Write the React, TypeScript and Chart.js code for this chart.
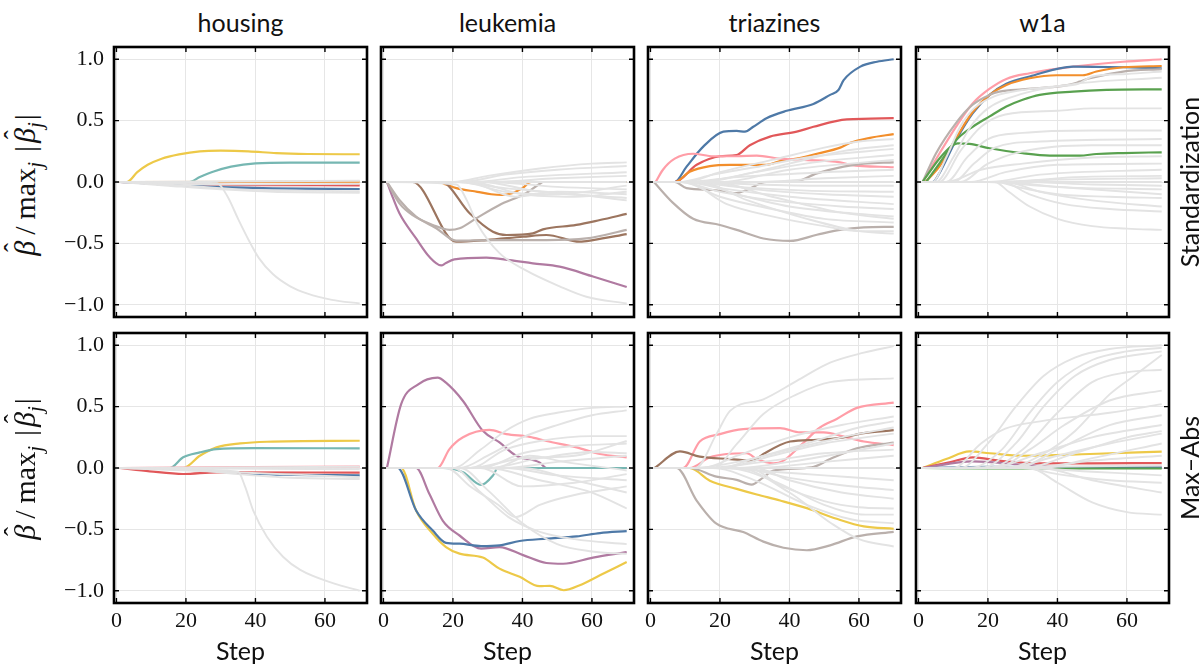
import React, { useEffect, useRef } from "react";
import { Chart, registerables } from "chart.js";

Chart.register(...registerables);

type Pt = [number, number];

// ---------- axis values ----------
const X_TICKS = [0, 20, 40, 60];
const Y_TICKS = [-1, -0.5, 0, 0.5, 1];
const X_MIN = -0.7;
const X_MAX = 72.1;
const Y_MIN = -1.1;
const Y_MAX = 1.1;

const COLUMN_TITLES = ["housing", "leukemia", "triazines", "w1a"];
const ROW_TITLES = ["Standardization", "Max\u2013Abs"];
const X_LABEL = "Step";

// ---------- housing / Standardization ----------
const HOUSING_STD_GRAY: Pt[][] = [
  [[1, 0], [29, -0.01], [32, -0.12], [35, -0.3], [38, -0.47], [41, -0.62], [45, -0.75], [50, -0.85], [55, -0.91], [62, -0.96], [70, -0.99]],
  [[1, 0], [15, -0.03], [30, -0.06], [45, -0.08], [70, -0.087]],
  [[1, 0], [20, -0.03], [35, -0.06], [70, -0.075]],
  [[1, 0], [70, 0.01]],
  [[1, 0], [30, -0.02], [70, -0.015]],
];
const HOUSING_STD_HL: [string, Pt[]][] = [
  ["blue", [[1, 0], [8, -0.01], [20, -0.03], [30, -0.042], [45, -0.052], [70, -0.057]]],
  ["orange", [[1, 0], [70, 0.002]]],
  ["red", [[1, 0], [10, -0.012], [20, -0.02], [35, -0.025], [70, -0.027]]],
  ["teal", [[1, 0], [21, 0], [24, 0.04], [28, 0.085], [33, 0.125], [40, 0.152], [50, 0.158], [70, 0.158]]],
  ["yellow", [[1, 0], [3, 0], [6, 0.08], [9, 0.14], [13, 0.19], [18, 0.225], [24, 0.25], [30, 0.255], [38, 0.25], [46, 0.235], [55, 0.228], [70, 0.226]]],
];

// ---------- leukemia / Standardization ----------
const LEUKEMIA_STD_GRAY: Pt[][] = [
  [[1, 0], [21, -0.02], [24, -0.15], [27, -0.34], [33.4, -0.58], [41, -0.72], [50.7, -0.85], [58.4, -0.935], [70, -0.99]],
  [[1, 0], [20, 0], [30, 0.05], [45, 0.11], [60, 0.15], [70, 0.16]],
  [[1, 0], [22, 0], [35, 0.06], [50, 0.1], [70, 0.13]],
  [[1, 0], [25, 0], [40, 0.04], [70, 0.08]],
  [[1, 0], [30, 0], [50, 0.03], [70, 0.05]],
  [[1, 0], [70, 0]],
  [[1, 0], [22, 0], [35, -0.08], [50, -0.1], [70, -0.03]],
  [[1, 0], [25, 0], [40, -0.1], [55, -0.12], [70, -0.08]],
  [[1, 0], [28, 0], [45, -0.08], [70, -0.13]],
  [[1, 0], [20, 0], [35, -0.05], [55, -0.1], [70, -0.15]],
  [[1, 0], [30, 0], [50, -0.04], [70, -0.06]],
  [[1, 0], [24, 0], [38, -0.12], [50, -0.08], [70, -0.1]],
];
const LEUKEMIA_STD_HL: [string, Pt[]][] = [
  ["graybrown", [[1, 0], [4.6, -0.174], [8.4, -0.27], [14.2, -0.35], [19, -0.39], [21.9, -0.377], [26.7, -0.296], [33.4, -0.187], [41, -0.092], [44.9, -0.016], [46, 0], [70, 0]]],
  ["graybrown", [[1, 0], [4.6, -0.147], [9.4, -0.283], [15.2, -0.377], [20.9, -0.478], [31.5, -0.473], [46.9, -0.473], [58.4, -0.46], [70, -0.39]]],
  ["brown", [[1, 0], [8.4, 0], [20.9, -0.486], [29.6, -0.473], [40.2, -0.446], [46.9, -0.432], [56.5, -0.486], [60.3, -0.473], [70, -0.425]]],
  ["brown", [[1, 0], [16.6, 0], [24.8, -0.255], [31.5, -0.405], [35.4, -0.432], [43, -0.418], [45.9, -0.386], [55.5, -0.35], [62.3, -0.31], [70, -0.26]]],
  ["purple", [[1, 0], [2.2, -0.09], [4.6, -0.255], [9.4, -0.46], [13.2, -0.61], [16.6, -0.68], [18, -0.66], [20.4, -0.63], [29.6, -0.617], [36.3, -0.636], [43, -0.663], [50.7, -0.69], [60.3, -0.77], [70, -0.855]]],
  ["orange", [[1, 0], [16, 0], [18, -0.02], [21, -0.05], [27, -0.08], [31, -0.1], [34, -0.106], [37, -0.092], [40, -0.05], [42.5, 0], [70, 0]]],
];

// ---------- triazines / Standardization ----------
const TRIAZINES_STD_GRAY: Pt[][] = [
  [[1, 0], [10, 0], [20, 0.08], [35, 0.18], [50, 0.28], [60, 0.33], [70, 0.35]],
  [[1, 0], [12, 0], [25, 0.05], [40, 0.15], [55, 0.25], [70, 0.3]],
  [[1, 0], [8, 0], [18, 0.06], [30, 0.12], [45, 0.2], [70, 0.27]],
  [[1, 0], [15, 0], [30, 0.08], [50, 0.17], [70, 0.22]],
  [[1, 0], [20, 0], [40, 0.1], [70, 0.18]],
  [[1, 0], [10, 0], [25, 0.04], [50, 0.08], [70, 0.1]],
  [[1, 0], [30, 0], [50, 0.03], [70, 0.05]],
  [[1, 0], [70, 0]],
  [[1, 0], [12, 0], [30, -0.02], [50, -0.03], [70, -0.03]],
  [[1, 0], [10, 0], [25, -0.04], [45, -0.07], [70, -0.08]],
  [[1, 0], [15, 0], [30, -0.06], [50, -0.1], [70, -0.12]],
  [[1, 0], [10, 0], [20, -0.05], [40, -0.12], [70, -0.18]],
  [[1, 0], [8, 0], [20, -0.08], [35, -0.15], [55, -0.2], [70, -0.22]],
  [[1, 0], [12, 0], [25, -0.1], [40, -0.2], [60, -0.26], [70, -0.28]],
  [[1, 0], [9, 0], [20, -0.12], [35, -0.22], [50, -0.3], [70, -0.33]],
  [[1, 0], [10, 0], [22, -0.18], [35, -0.28], [50, -0.36], [60, -0.4], [70, -0.4]],
  [[1, 0], [14, 0], [28, -0.15], [45, -0.3], [60, -0.4], [70, -0.42]],
  [[1, 0], [18, 0], [35, -0.12], [55, -0.25], [70, -0.3]],
];
const TRIAZINES_STD_HL: [string, Pt[]][] = [
  ["graybrown", [[1, 0], [7, 0], [10.4, -0.05], [18.1, -0.065], [24.8, -0.09], [27.7, -0.065], [33.4, 0], [41.1, 0], [47.9, 0.07], [55.6, 0.125], [61.4, 0.15], [70, 0.16]]],
  ["graybrown", [[1, 0], [6.5, -0.17], [12.3, -0.3], [20, -0.35], [24.8, -0.39], [32.5, -0.46], [40.2, -0.48], [47.9, -0.43], [54.6, -0.39], [61.4, -0.37], [70, -0.365]]],
  ["pink", [[1.5, 0], [3.6, 0.1], [7, 0.19], [12.3, 0.23], [18.1, 0.21], [24.8, 0.21], [30.6, 0.215], [37.3, 0.19], [44, 0.18], [54.6, 0.16], [57.5, 0.14], [70, 0.12]]],
  ["orange", [[1, 0], [7, 0], [11.3, 0.084], [17.1, 0.13], [22.9, 0.14], [33.4, 0.14], [37.3, 0.17], [42.1, 0.19], [47.9, 0.23], [54.6, 0.28], [57.5, 0.32], [63.2, 0.36], [70, 0.39]]],
  ["red", [[1, 0], [7, 0], [13.3, 0.14], [20, 0.21], [24.8, 0.22], [28.6, 0.3], [34.4, 0.37], [42.1, 0.41], [46.9, 0.45], [56.5, 0.51], [70, 0.52]]],
  ["blue", [[1, 0], [7, 0], [10.4, 0.125], [15.2, 0.288], [21, 0.41], [24.8, 0.416], [27.2, 0.41], [29.6, 0.45], [33.4, 0.52], [39.2, 0.58], [46.9, 0.636], [51.7, 0.71], [54.1, 0.75], [55.6, 0.83], [60.4, 0.94], [65.2, 0.98], [70, 1.0]]],
];

// ---------- w1a / Standardization ----------
const W1A_STD_GRAY: Pt[][] = [
  [[1, 0], [4, 0], [8, 0.2], [12, 0.45], [16, 0.6], [22, 0.7], [30, 0.75], [40, 0.78], [46, 0.8], [50, 0.86], [60, 0.88], [70, 0.9]],
  [[1, 0], [5, 0], [10, 0.2], [15, 0.45], [20, 0.6], [30, 0.72], [45, 0.8], [70, 0.85]],
  [[1, 0], [6, 0], [12, 0.25], [18, 0.45], [25, 0.55], [40, 0.58], [50, 0.6], [70, 0.6]],
  [[1, 0], [8, 0], [14, 0.2], [20, 0.35], [30, 0.4], [50, 0.42], [70, 0.42]],
  [[1, 0], [10, 0], [16, 0.15], [22, 0.28], [35, 0.33], [70, 0.35]],
  [[1, 0], [12, 0], [20, 0.15], [30, 0.25], [50, 0.3], [70, 0.3]],
  [[1, 0], [8, 0], [18, 0.1], [30, 0.15], [50, 0.2], [70, 0.21]],
  [[1, 0], [15, 0], [25, 0.08], [40, 0.14], [70, 0.15]],
  [[1, 0], [20, 0], [35, 0.06], [70, 0.1]],
  [[1, 0], [25, 0], [45, 0.04], [70, 0.05]],
  [[1, 0], [70, 0]],
  [[1, 0], [20, 0], [40, 0.02], [70, 0.03]],
  [[1, 0], [22, 0], [30, -0.05], [40, -0.1], [55, -0.12], [70, -0.13]],
  [[1, 0], [22, 0], [26, -0.08], [32, -0.2], [40, -0.3], [50, -0.36], [60, -0.38], [70, -0.39]],
  [[1, 0], [24, 0], [32, -0.1], [42, -0.18], [55, -0.22], [70, -0.24]],
  [[1, 0], [25, 0], [35, -0.08], [50, -0.15], [70, -0.2]],
  [[1, 0], [25, 0], [40, -0.04], [70, -0.06]],
  [[1, 0], [30, 0], [50, -0.02], [70, -0.03]],
  [[1, 0], [20, 0], [35, -0.03], [70, -0.1]],
];
const W1A_STD_HL: [string, Pt[]][] = [
  ["green", [[1.2, 0], [6, 0.19], [9.9, 0.3], [11.3, 0.315], [14.7, 0.31], [20.5, 0.275], [30, 0.234], [37.8, 0.215], [46.4, 0.215], [51.2, 0.228], [58.9, 0.236], [70, 0.242]]],
  ["green", [[2.2, 0], [6, 0.15], [10.8, 0.34], [15.6, 0.45], [20.5, 0.535], [25.3, 0.615], [30, 0.67], [34.9, 0.71], [44.5, 0.736], [54.1, 0.75], [70, 0.755]]],
  ["graybrown", [[1.2, 0], [5, 0.23], [10.8, 0.48], [15.6, 0.63], [20.5, 0.71], [23.3, 0.736], [30, 0.755], [39.7, 0.777], [44.5, 0.8], [46.4, 0.818], [49.3, 0.845], [58.9, 0.9], [70, 0.92]]],
  ["orange", [[2, 0], [6, 0.125], [10.8, 0.356], [15.6, 0.57], [20.5, 0.71], [25.3, 0.79], [32, 0.845], [39.7, 0.87], [47.3, 0.87], [51.2, 0.9], [58.9, 0.935], [70, 0.945]]],
  ["blue", [[1.2, 0], [4.1, 0], [6, 0.07], [10.8, 0.34], [15.6, 0.56], [20.5, 0.71], [25.3, 0.8], [32, 0.86], [44.5, 0.94], [58.9, 0.935], [70, 0.927]]],
  ["pink", [[1.2, 0], [6, 0.23], [10.8, 0.45], [15.6, 0.64], [20.5, 0.76], [25.3, 0.84], [32, 0.886], [44.5, 0.94], [58.9, 0.98], [70, 1.0]]],
];

// ---------- housing / Max-Abs ----------
const HOUSING_MAX_GRAY: Pt[][] = [
  [[1, 0], [35, -0.03], [37, -0.15], [39.4, -0.35], [43.3, -0.56], [48, -0.725], [52.9, -0.83], [62.5, -0.94], [70, -1.0]],
  [[1, 0], [20, -0.01], [35, -0.05], [50, -0.08], [70, -0.09]],
  [[1, 0], [30, -0.03], [70, -0.075]],
  [[1, 0], [70, 0.01]],
  [[1, 0], [70, -0.01]],
];
const HOUSING_MAX_HL: [string, Pt[]][] = [
  ["pink", [[1, 0], [25, 0.005], [70, 0.012]]],
  ["red", [[1, 0], [9.6, -0.027], [19.2, -0.049], [28.8, -0.035], [70, -0.038]]],
  ["blue", [[1, 0], [20, 0], [28.8, -0.027], [38.5, -0.043], [48, -0.054], [70, -0.06]]],
  ["teal", [[1, 0], [15.4, 0], [19.2, 0.087], [24, 0.127], [28.8, 0.154], [39.4, 0.162], [70, 0.16]]],
  ["yellow", [[1, 0], [19.2, 0], [24, 0.1], [28.8, 0.168], [35.6, 0.2], [43.3, 0.214], [70, 0.222]]],
];

// ---------- leukemia / Max-Abs ----------
const LEUKEMIA_MAX_GRAY: Pt[][] = [
  [[1, 0], [20, 0], [28, 0.15], [35, 0.3], [42, 0.4], [50, 0.45], [60, 0.49], [70, 0.5]],
  [[1, 0], [22, 0], [30, 0.1], [40, 0.25], [50, 0.35], [60, 0.43], [70, 0.47]],
  [[1, 0], [25, 0], [35, 0.15], [45, 0.22], [60, 0.26], [70, 0.26]],
  [[1, 0], [28, 0], [40, 0.12], [55, 0.18], [70, 0.2]],
  [[1, 0], [30, 0], [45, 0.08], [60, 0.13], [70, 0.12]],
  [[1, 0], [35, 0], [50, 0.05], [70, 0.1]],
  [[1, 0], [25, 0], [40, 0.08], [55, 0.1], [70, 0.22]],
  [[1, 0], [18, 0], [25, -0.15], [33, -0.3], [38, -0.4], [45, -0.3], [55, -0.22], [70, -0.15]],
  [[1, 0], [20, 0], [28, -0.2], [36, -0.4], [45, -0.52], [55, -0.58], [70, -0.62]],
  [[1, 0], [22, 0], [30, -0.18], [40, -0.45], [50, -0.62], [60, -0.68], [70, -0.7]],
  [[1, 0], [30, 0], [45, -0.1], [60, -0.2], [70, -0.33]],
  [[1, 0], [35, 0], [50, -0.06], [70, -0.1]],
  [[1, 0], [28, 0], [40, -0.15], [55, -0.12], [70, -0.05]],
  [[1, 0], [40, 0], [55, -0.1], [70, -0.2]],
  [[1, 0], [32, 0], [42, 0.1], [52, 0.05], [70, -0.02]],
];
const LEUKEMIA_MAX_HL: [string, Pt[]][] = [
  ["pink", [[1, 0], [15.6, 0], [19, 0.154], [22.9, 0.25], [30.5, 0.31], [35.4, 0.276], [42.1, 0.254], [46.9, 0.22], [55.6, 0.168], [62.3, 0.114], [70, 0.087]]],
  ["blue", [[1, 0], [4.1, 0], [9.4, -0.346], [14.2, -0.51], [18, -0.61], [21.9, -0.617], [28.1, -0.636], [33.4, -0.63], [39.2, -0.595], [46.9, -0.576], [55.6, -0.557], [62.3, -0.53], [70, -0.514]]],
  ["yellow", [[1, 0], [5.1, 0], [9.4, -0.346], [14.2, -0.536], [18, -0.644], [21.9, -0.698], [28.6, -0.73], [33.4, -0.82], [39.2, -0.887], [44.9, -0.963], [47.9, -0.96], [51.9, -0.996], [56.5, -0.955], [62.3, -0.874], [70, -0.766]]],
  ["purple", [[1, 0], [9.4, 0], [13.2, -0.21], [17.1, -0.43], [21.9, -0.55], [28.1, -0.657], [33.4, -0.644], [40.2, -0.71], [46.9, -0.774], [51.7, -0.78], [60.3, -0.73], [70, -0.685]]],
  ["teal", [[1, 0], [17.1, 0], [22.9, -0.035], [28.1, -0.138], [31.5, -0.062], [32.9, 0], [70, 0]]],
  ["purple", [[1, 0], [5.1, 0.52], [9.9, 0.68], [15.6, 0.736], [18, 0.695], [22.9, 0.546], [28.6, 0.303], [33.4, 0.208], [38.2, 0.1], [44.9, 0.046], [46.9, 0], [70, 0]]],
];

// ---------- triazines / Max-Abs ----------
const TRIAZINES_MAX_GRAY: Pt[][] = [
  [[1, 0], [13, 0], [19, 0.276], [22.9, 0.465], [32.5, 0.56], [42.1, 0.71], [51.7, 0.858], [61.4, 0.94], [70, 0.993]],
  [[1, 0], [18, 0], [25, 0.2], [32.5, 0.44], [42.1, 0.6], [51.7, 0.7], [70, 0.73]],
  [[1, 0], [15, 0], [25, 0.1], [40, 0.25], [55, 0.35], [70, 0.42]],
  [[1, 0], [20, 0], [30, 0.08], [45, 0.2], [60, 0.33], [70, 0.38]],
  [[1, 0], [12, 0], [25, 0.05], [40, 0.15], [55, 0.25], [70, 0.33]],
  [[1, 0], [20, 0], [35, 0.1], [50, 0.2], [70, 0.28]],
  [[1, 0], [25, 0], [40, 0.05], [55, 0.12], [70, 0.2]],
  [[1, 0], [15, 0], [35, 0.06], [50, 0.12], [70, 0.15]],
  [[1, 0], [30, 0], [50, 0.05], [70, 0.1]],
  [[1, 0], [70, 0]],
  [[1, 0], [20, 0], [35, -0.03], [50, -0.06], [70, -0.1]],
  [[1, 0], [25, 0], [40, -0.08], [55, -0.14], [70, -0.18]],
  [[1, 0], [30, 0], [40, -0.1], [55, -0.2], [70, -0.25]],
  [[1, 0], [28, 0], [38, -0.15], [50, -0.27], [60, -0.32], [70, -0.33]],
  [[1, 0], [22, 0], [35, -0.1], [50, -0.3], [62, -0.38], [70, -0.38]],
  [[1, 0], [18, 0], [30, -0.1], [45, -0.3], [58, -0.42], [70, -0.45]],
  [[1, 0], [25, 0], [40, -0.2], [52, -0.45], [60, -0.58], [70, -0.64]],
];
const TRIAZINES_MAX_HL: [string, Pt[]][] = [
  ["graybrown", [[1, 0], [11.3, 0], [19, -0.07], [24.8, -0.097], [29.1, -0.135], [32.5, -0.076], [35.4, -0.02], [46.4, 0.005], [51.7, 0.073], [59.4, 0.16], [70, 0.208]]],
  ["graybrown", [[1, 0], [7.5, 0], [13.3, -0.265], [19, -0.454], [26.7, -0.522], [32.5, -0.6], [38.3, -0.65], [45, -0.67], [51.7, -0.63], [59.4, -0.557], [70, -0.52]]],
  ["yellow", [[1, 0], [11.3, 0], [17.1, -0.103], [24.8, -0.17], [30.6, -0.216], [37.3, -0.265], [45, -0.327], [53.6, -0.414], [61.4, -0.476], [70, -0.495]]],
  ["brown", [[1.2, 0], [8.5, 0.135], [14.2, 0.092], [22.9, 0.073], [29.6, 0.06], [32.5, 0.114], [40.2, 0.216], [47.9, 0.23], [55.6, 0.25], [61.4, 0.284], [70, 0.308]]],
  ["pink", [[1, 0], [11.3, 0], [17.1, 0.087], [21.9, 0.114], [27.7, 0.12], [30.6, 0.073], [35.4, 0.038], [38.3, 0.06], [43.1, 0.18], [48.8, 0.33], [53.6, 0.4], [59.4, 0.49], [70, 0.533]]],
  ["pink", [[1, 0], [9.4, 0], [14.2, 0.216], [20, 0.276], [26.7, 0.317], [37.3, 0.325], [43.1, 0.29], [49.8, 0.29], [56.5, 0.25], [61.4, 0.216], [70, 0.187]]],
];

// ---------- w1a / Max-Abs ----------
const W1A_MAX_GRAY: Pt[][] = [
  [[1, 0], [12, 0], [20, 0.2], [28, 0.5], [36, 0.75], [45, 0.9], [55, 0.97], [70, 1.0]],
  [[1, 0], [15, 0], [24, 0.15], [32, 0.45], [40, 0.7], [50, 0.88], [60, 0.95], [70, 0.98]],
  [[1, 0], [18, 0], [28, 0.2], [36, 0.5], [45, 0.75], [55, 0.88], [70, 0.95]],
  [[1, 0], [20, 0], [30, 0.15], [40, 0.45], [50, 0.7], [60, 0.78], [70, 0.8]],
  [[1, 0], [25, 0], [35, 0.1], [45, 0.3], [55, 0.6], [62, 0.75], [70, 0.92]],
  [[1, 0], [22, 0], [32, 0.15], [42, 0.35], [55, 0.55], [70, 0.63]],
  [[1, 0], [10, 0], [18, 0.2], [25, 0.32], [35, 0.38], [55, 0.45], [70, 0.52]],
  [[1, 0], [28, 0], [40, 0.15], [55, 0.35], [70, 0.43]],
  [[1, 0], [20, 0], [35, 0.12], [50, 0.25], [70, 0.35]],
  [[1, 0], [30, 0], [45, 0.12], [60, 0.25], [70, 0.3]],
  [[1, 0], [25, 0], [40, 0.1], [55, 0.2], [70, 0.28]],
  [[1, 0], [35, 0], [50, 0.08], [70, 0.2]],
  [[1, 0], [30, 0], [50, 0.06], [70, 0.1]],
  [[1, 0], [70, 0.02]],
  [[1, 0], [30, 0], [40, -0.05], [55, -0.1], [70, -0.12]],
  [[1, 0], [32, 0], [40, -0.12], [50, -0.28], [60, -0.36], [70, -0.38]],
  [[1, 0], [35, 0], [50, -0.1], [70, -0.2]],
  [[1, 0], [30, 0], [50, -0.03], [70, -0.06]],
];
const W1A_MAX_HL: [string, Pt[]][] = [
  ["green", [[1.2, 0], [20, -0.004], [70, -0.004]]],
  ["blue", [[1.2, 0], [20, 0.01], [70, 0.003]]],
  ["purple", [[1.2, 0], [15.6, 0.054], [30, 0.027], [44.5, 0.005], [70, 0.005]]],
  ["red", [[1.2, 0], [8.9, 0.046], [15.6, 0.087], [23.3, 0.06], [34.9, 0.038], [49.3, 0.038], [70, 0.04]]],
  ["yellow", [[1.2, 0], [8, 0.073], [14.7, 0.135], [20.5, 0.12], [30, 0.1], [49.3, 0.114], [70, 0.133]]],
];

// ---------- styles ----------
const PALETTE: Record<string, string> = {
  blue: "#4e79a7",
  orange: "#f28e2b",
  red: "#e15759",
  teal: "#76b7b2",
  green: "#59a14f",
  yellow: "#edc948",
  purple: "#b07aa1",
  pink: "#ff9da7",
  brown: "#9c755f",
  graybrown: "#bab0ac",
};
const GRAY_LINE = "#e3e3e3";
const GRID = "#e6e6e6";

const PANELS = [
  { row: 0, col: 0, gray: HOUSING_STD_GRAY, hl: HOUSING_STD_HL },
  { row: 0, col: 1, gray: LEUKEMIA_STD_GRAY, hl: LEUKEMIA_STD_HL },
  { row: 0, col: 2, gray: TRIAZINES_STD_GRAY, hl: TRIAZINES_STD_HL },
  { row: 0, col: 3, gray: W1A_STD_GRAY, hl: W1A_STD_HL },
  { row: 1, col: 0, gray: HOUSING_MAX_GRAY, hl: HOUSING_MAX_HL },
  { row: 1, col: 1, gray: LEUKEMIA_MAX_GRAY, hl: LEUKEMIA_MAX_HL },
  { row: 1, col: 2, gray: TRIAZINES_MAX_GRAY, hl: TRIAZINES_MAX_HL },
  { row: 1, col: 3, gray: W1A_MAX_GRAY, hl: W1A_MAX_HL },
];

// layout (pixels)
const PLOT_LEFT = [114, 381, 648, 916];
const PLOT_TOP = [47, 333];
const PLOT_W = 253;
const PLOT_H = 270;
const YW = 60;
const XH = 40;
const PAD = 4;

const SERIF = "'Liberation Serif', 'DejaVu Serif', serif";
const SANS = "Lato, 'Open Sans', 'DejaVu Sans', sans-serif";

const framePlugin = {
  id: "frameTicks",
  afterDraw(chart: any) {
    const { ctx, chartArea: a, scales } = chart;
    ctx.save();
    ctx.strokeStyle = "#000";
    ctx.lineWidth = 1.4;
    const L = 5;
    ctx.beginPath();
    for (const v of X_TICKS) {
      const px = scales.x.getPixelForValue(v);
      ctx.moveTo(px, a.bottom);
      ctx.lineTo(px, a.bottom - L);
      ctx.moveTo(px, a.top);
      ctx.lineTo(px, a.top + L);
    }
    for (const v of Y_TICKS) {
      const py = scales.y.getPixelForValue(v);
      ctx.moveTo(a.left, py);
      ctx.lineTo(a.left + L, py);
      ctx.moveTo(a.right, py);
      ctx.lineTo(a.right - L, py);
    }
    ctx.stroke();
    ctx.lineWidth = 2.6;
    ctx.strokeRect(a.left, a.top, a.right - a.left, a.bottom - a.top);
    ctx.restore();
  },
};

function fmtY(v: number) {
  return (v < 0 ? "\u2212" : "") + Math.abs(v).toFixed(1);
}

function zeroPadding(s: any) {
  s.paddingTop = 0;
  s.paddingBottom = 0;
  s.paddingLeft = 0;
  s.paddingRight = 0;
}

function Panel(props: { row: number; col: number; gray: Pt[][]; hl: [string, Pt[]][] }) {
  const ref = useRef<HTMLCanvasElement>(null);
  const { row, col, gray, hl } = props;
  const width = YW + PLOT_W + PAD;
  const height = PAD + PLOT_H + XH;
  useEffect(() => {
    const toXY = (pts: Pt[]) => pts.map(([x, y]) => ({ x, y }));
    const datasets: any[] = [];
    gray.forEach((pts) =>
      datasets.push({
        data: toXY(pts),
        borderColor: GRAY_LINE,
        borderWidth: 1.9,
        pointRadius: 0,
        fill: false,
        cubicInterpolationMode: "monotone",
      })
    );
    hl.forEach(([key, pts]) =>
      datasets.push({
        data: toXY(pts),
        borderColor: PALETTE[key],
        borderWidth: 2.2,
        pointRadius: 0,
        fill: false,
        cubicInterpolationMode: "monotone",
      })
    );
    const chart = new Chart(ref.current as HTMLCanvasElement, {
      type: "line",
      data: { datasets },
      options: {
        animation: false,
        responsive: false,
        devicePixelRatio: 1,
        layout: { autoPadding: false, padding: { top: PAD, right: PAD, left: 0, bottom: 0 } },
        plugins: { legend: { display: false }, tooltip: { enabled: false } },
        events: [],
        scales: {
          x: {
            type: "linear",
            min: X_MIN,
            max: X_MAX,
            afterBuildTicks: (s: any) => {
              s.ticks = X_TICKS.map((v) => ({ value: v }));
            },
            afterFit: (s: any) => {
              s.height = XH;
              zeroPadding(s);
            },
            grid: { color: GRID, lineWidth: 1, drawTicks: false },
            border: { display: false },
            ticks: {
              display: row === 1,
              padding: 5,
              maxRotation: 0,
              autoSkip: false,
              color: "#111",
              font: { family: SERIF, size: 22 },
              callback: (v: any) => String(v),
            },
          },
          y: {
            type: "linear",
            min: Y_MIN,
            max: Y_MAX,
            afterBuildTicks: (s: any) => {
              s.ticks = Y_TICKS.map((v) => ({ value: v }));
            },
            afterFit: (s: any) => {
              s.width = YW;
              zeroPadding(s);
            },
            grid: { color: GRID, lineWidth: 1, drawTicks: false },
            border: { display: false },
            ticks: {
              display: col === 0,
              padding: 10,
              autoSkip: false,
              color: "#111",
              font: { family: SERIF, size: 22 },
              callback: (v: any) => fmtY(Number(v)),
            },
          },
        },
      } as any,
      plugins: [framePlugin],
    });
    return () => chart.destroy();
  }, []);
  return (
    <canvas
      ref={ref}
      width={width}
      height={height}
      style={{
        position: "absolute",
        left: PLOT_LEFT[col] - YW,
        top: PLOT_TOP[row] - PAD,
        width,
        height,
      }}
    />
  );
}

function Hat({ letter }: { letter: string }) {
  return (
    <span style={{ position: "relative", display: "inline-block", fontStyle: "italic" }}>
      {letter}
      <span
        style={{
          position: "absolute",
          left: "0.14em",
          top: "-0.40em",
          fontStyle: "normal",
          fontSize: "0.9em",
        }}
      >
        {"\u02C6"}
      </span>
    </span>
  );
}

function YLabel({ cy }: { cy: number }) {
  return (
    <div
      style={{
        position: "absolute",
        left: 30,
        top: cy,
        transform: "translate(-50%, -50%) rotate(-90deg)",
        whiteSpace: "nowrap",
        fontFamily: SERIF,
        fontSize: 30,
        lineHeight: "34px",
        color: "#111",
      }}
    >
      <Hat letter={"\u03B2"} />
      <span style={{ margin: "0 7px 0 6px" }}>/</span>
      <span>max</span>
      <sub style={{ fontSize: 21, fontStyle: "italic", verticalAlign: "-0.35em" }}>j</sub>
      <span style={{ marginLeft: 10, marginRight: 3 }}>|</span>
      <Hat letter={"\u03B2"} />
      <sub style={{ fontSize: 21, fontStyle: "italic", verticalAlign: "-0.35em" }}>j</sub>
      <span style={{ marginLeft: 2 }}>|</span>
    </div>
  );
}

export default function App() {
  return (
    <div
      style={{
        position: "absolute",
        left: 0,
        top: 0,
        width: 1202,
        height: 666,
        background: "#fff",
        overflow: "hidden",
      }}
    >
      {PANELS.map((p, i) => (
        <Panel key={i} row={p.row} col={p.col} gray={p.gray} hl={p.hl} />
      ))}
      {COLUMN_TITLES.map((t, i) => (
        <div
          key={t}
          style={{
            position: "absolute",
            left: PLOT_LEFT[i] + PLOT_W / 2 - 100,
            width: 200,
            top: 9.5,
            textAlign: "center",
            fontFamily: SANS,
            fontSize: 25,
            lineHeight: "25px",
            color: "#111",
          }}
        >
          {t}
        </div>
      ))}
      {COLUMN_TITLES.map((t, i) => (
        <div
          key={"x" + t}
          style={{
            position: "absolute",
            left: PLOT_LEFT[i] + PLOT_W / 2 - 100,
            width: 200,
            top: 638,
            textAlign: "center",
            fontFamily: SANS,
            fontSize: 25,
            lineHeight: "25px",
            color: "#111",
          }}
        >
          {X_LABEL}
        </div>
      ))}
      {ROW_TITLES.map((t, r) => (
        <div
          key={t}
          style={{
            position: "absolute",
            left: 1189,
            top: PLOT_TOP[r] + PLOT_H / 2,
            transform: "translate(-50%, -50%) rotate(-90deg)",
            whiteSpace: "nowrap",
            fontFamily: SANS,
            fontSize: 25,
            lineHeight: "25px",
            color: "#111",
          }}
        >
          {t}
        </div>
      ))}
      <YLabel cy={185} />
      <YLabel cy={469} />
    </div>
  );
}
